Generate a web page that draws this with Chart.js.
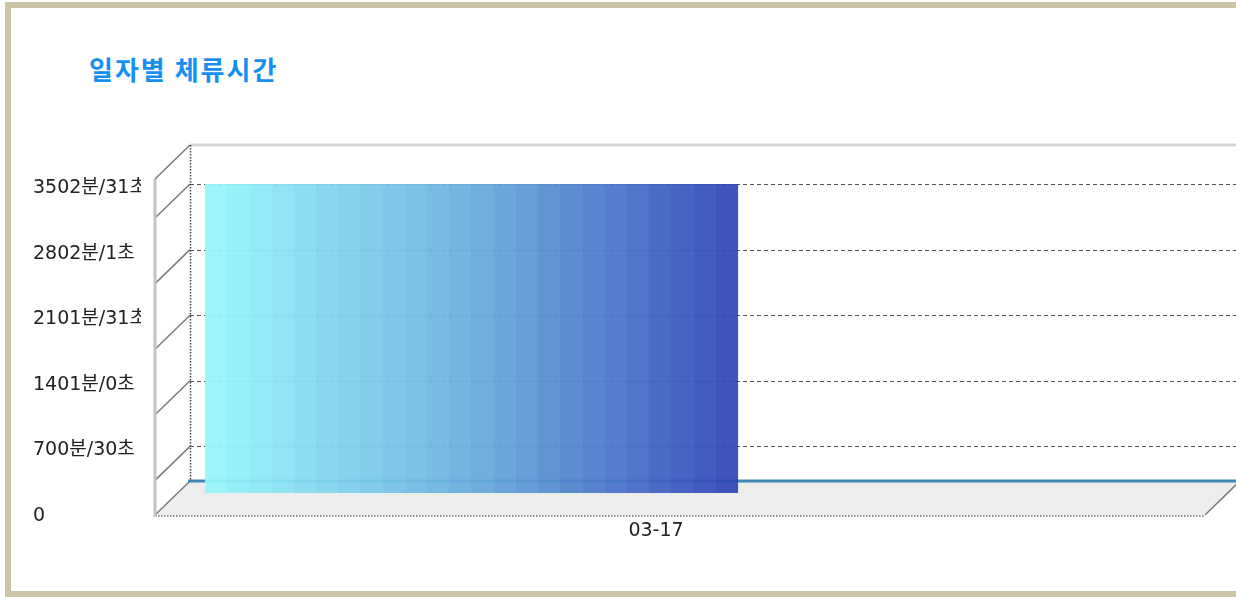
<!DOCTYPE html>
<html>
<head>
<meta charset="utf-8">
<script src="https://cdn.jsdelivr.net/npm/chart.js@4/dist/chart.umd.min.js"></script>
<style>
  html, body { margin:0; padding:0; background:#fff; overflow:hidden; }
  #wrap { position:absolute; left:0; top:0; width:1236px; height:597px; overflow:hidden; }
  #border { position:absolute; left:5px; top:2px; width:1240px; height:583px; border:6px solid #ccc5a5; border-right:none; box-sizing:content-box; }
  #title { position:absolute; left:89px; top:50px; font-family:'Noto Sans CJK KR', sans-serif; font-weight:700; font-size:26px; color:#1590f2; letter-spacing:2px; }
  canvas { position:absolute; left:0; top:0; }
</style>
</head>
<body>
<div id="wrap">
  <div id="border"></div>
  <div id="title">일자별 체류시간</div>
  <canvas id="c" width="1236" height="597"></canvas>
</div>
<script>
// ---- data ----
const categories = ['03-17'];
const stayMinutes = [3502.5];
const yTickValues = [0, 700.5, 1401, 2101.5, 2802, 3502.5];
const yTickLabels = ['0', '700분/30초', '1401분/0초', '2101분/31초', '2802분/1초', '3502분/31초'];
const yMax = 3502.5;

const FONT = "'DejaVu Sans', 'Noto Sans CJK KR', sans-serif";
const BAR_PCT = 0.947;

function barGradient(context) {
  const chart = context.chart;
  const xs = chart.scales.x;
  if (!xs || !chart.chartArea) return '#6aa8dc';
  const c = xs.getPixelForValue(context.dataIndex);
  const w = (xs.width / categories.length) * BAR_PCT;
  const x0 = c - w / 2, x1 = c + w / 2;
  const g = chart.ctx.createLinearGradient(x0, 0, x1, 0);
  const from = [150, 248, 252], mid = [104, 172, 222], to = [44, 66, 180];
  const steps = 24;
  for (let i = 0; i < steps; i++) {
    const t = (i + 0.5) / steps;
    let a, b, u;
    if (t < 0.5) { a = from; b = mid; u = t / 0.5; } else { a = mid; b = to; u = (t - 0.5) / 0.5; }
    const col = a.map((v, k) => Math.round(v + (b[k] - v) * u));
    const s = `rgba(${col[0]},${col[1]},${col[2]},0.93)`;
    g.addColorStop(i / steps, s);
    g.addColorStop(Math.min(1, (i + 1) / steps - 0.0001), s);
  }
  return g;
}

const frame3d = {
  id: 'frame3d',
  beforeDatasetsDraw(chart) {
    const { ctx } = chart;
    const y = chart.scales.y;
    const W = chart.width;
    const L = chart.chartArea.left;
    const D = 35, DY = 34;
    const zero = y.getPixelForValue(0);
    const wallTop = y.getPixelForValue(yMax) - 39;
    const fb = zero - 31, ff = zero + 3;
    ctx.save();
    // clip the y labels before the front axis
    ctx.fillStyle = '#fff';
    ctx.fillRect(141, 140, 15, 400);
    // floor
    ctx.fillStyle = '#ededed';
    ctx.beginPath();
    ctx.moveTo(L, fb); ctx.lineTo(W + 4, fb); ctx.lineTo(W + 4 - D, ff); ctx.lineTo(L - D, ff); ctx.closePath();
    ctx.fill();
    // grid lines on back wall
    ctx.strokeStyle = '#555';
    ctx.lineWidth = 1.2;
    ctx.setLineDash([4, 3]);
    y.ticks.forEach(t => {
      if (t.value === 0) return;
      const py = Math.round(y.getPixelForValue(t.value)) + 0.5;
      ctx.beginPath(); ctx.moveTo(L, py); ctx.lineTo(W, py); ctx.stroke();
    });
    ctx.setLineDash([]);
    // diagonals
    ctx.strokeStyle = '#7a7a7a';
    ctx.lineWidth = 1.5;
    const diag = (py) => { ctx.beginPath(); ctx.moveTo(L - D, py + DY); ctx.lineTo(L, py); ctx.stroke(); };
    diag(wallTop);
    y.ticks.forEach(t => { if (t.value !== 0) diag(y.getPixelForValue(t.value)); });
    diag(fb);
    ctx.beginPath(); ctx.moveTo(W + 4 - D, ff); ctx.lineTo(W + 4, fb); ctx.stroke();
    // top edge of back wall
    ctx.strokeStyle = '#d6d6d6';
    ctx.lineWidth = 3;
    ctx.beginPath(); ctx.moveTo(L, wallTop); ctx.lineTo(W, wallTop); ctx.stroke();
    // back wall vertical dotted
    ctx.strokeStyle = '#444';
    ctx.lineWidth = 1.5;
    ctx.setLineDash([1.5, 1.5]);
    ctx.beginPath(); ctx.moveTo(L + 0.5, wallTop); ctx.lineTo(L + 0.5, fb); ctx.stroke();
    // front bottom dotted edge
    ctx.strokeStyle = '#666';
    ctx.beginPath(); ctx.moveTo(L - D, ff + 1); ctx.lineTo(W + 4 - D, ff + 1); ctx.stroke();
    ctx.setLineDash([]);
    // blue floor line
    ctx.strokeStyle = '#3d88b5';
    ctx.lineWidth = 3;
    ctx.beginPath(); ctx.moveTo(L - 2, fb); ctx.lineTo(W, fb); ctx.stroke();
    // front vertical axis line
    ctx.strokeStyle = '#c4c4c4';
    ctx.lineWidth = 3;
    ctx.beginPath(); ctx.moveTo(L - D, wallTop + DY); ctx.lineTo(L - D, ff + 2); ctx.stroke();
    ctx.restore();
  }
};

new Chart(document.getElementById('c'), {
  type: 'bar',
  data: {
    labels: categories,
    datasets: [{
      data: stayMinutes,
      backgroundColor: barGradient,
      borderWidth: 0,
      barPercentage: BAR_PCT,
      categoryPercentage: 1,
      clip: { left: 0, top: 4, right: 0, bottom: -19 }
    }]
  },
  options: {
    responsive: false,
    animation: false,
    events: [],
    layout: { padding: { left: 33, top: 184, right: 483, bottom: 45 } },
    plugins: { legend: { display: false }, title: { display: false }, tooltip: { enabled: false } },
    scales: {
      x: {
        grid: { display: false, drawTicks: false },
        border: { display: false },
        ticks: { font: { family: FONT, size: 19 }, color: '#222', padding: 8, labelOffset: 184.5, maxRotation: 0 },
        afterFit(s) { s.height = 40; }
      },
      y: {
        min: 0, max: yMax,
        grid: { display: false, drawTicks: false },
        border: { display: false },
        afterBuildTicks(s) { s.ticks = yTickValues.map(v => ({ value: v })); },
        ticks: {
          crossAlign: 'far',
          labelOffset: 4,
          font: { family: FONT, size: 19 },
          color: '#222',
          callback: (v, i) => yTickLabels[i]
        },
        afterFit(s) { s.width = 157; }
      }
    }
  },
  plugins: [frame3d]
});
</script>
</body>
</html>
